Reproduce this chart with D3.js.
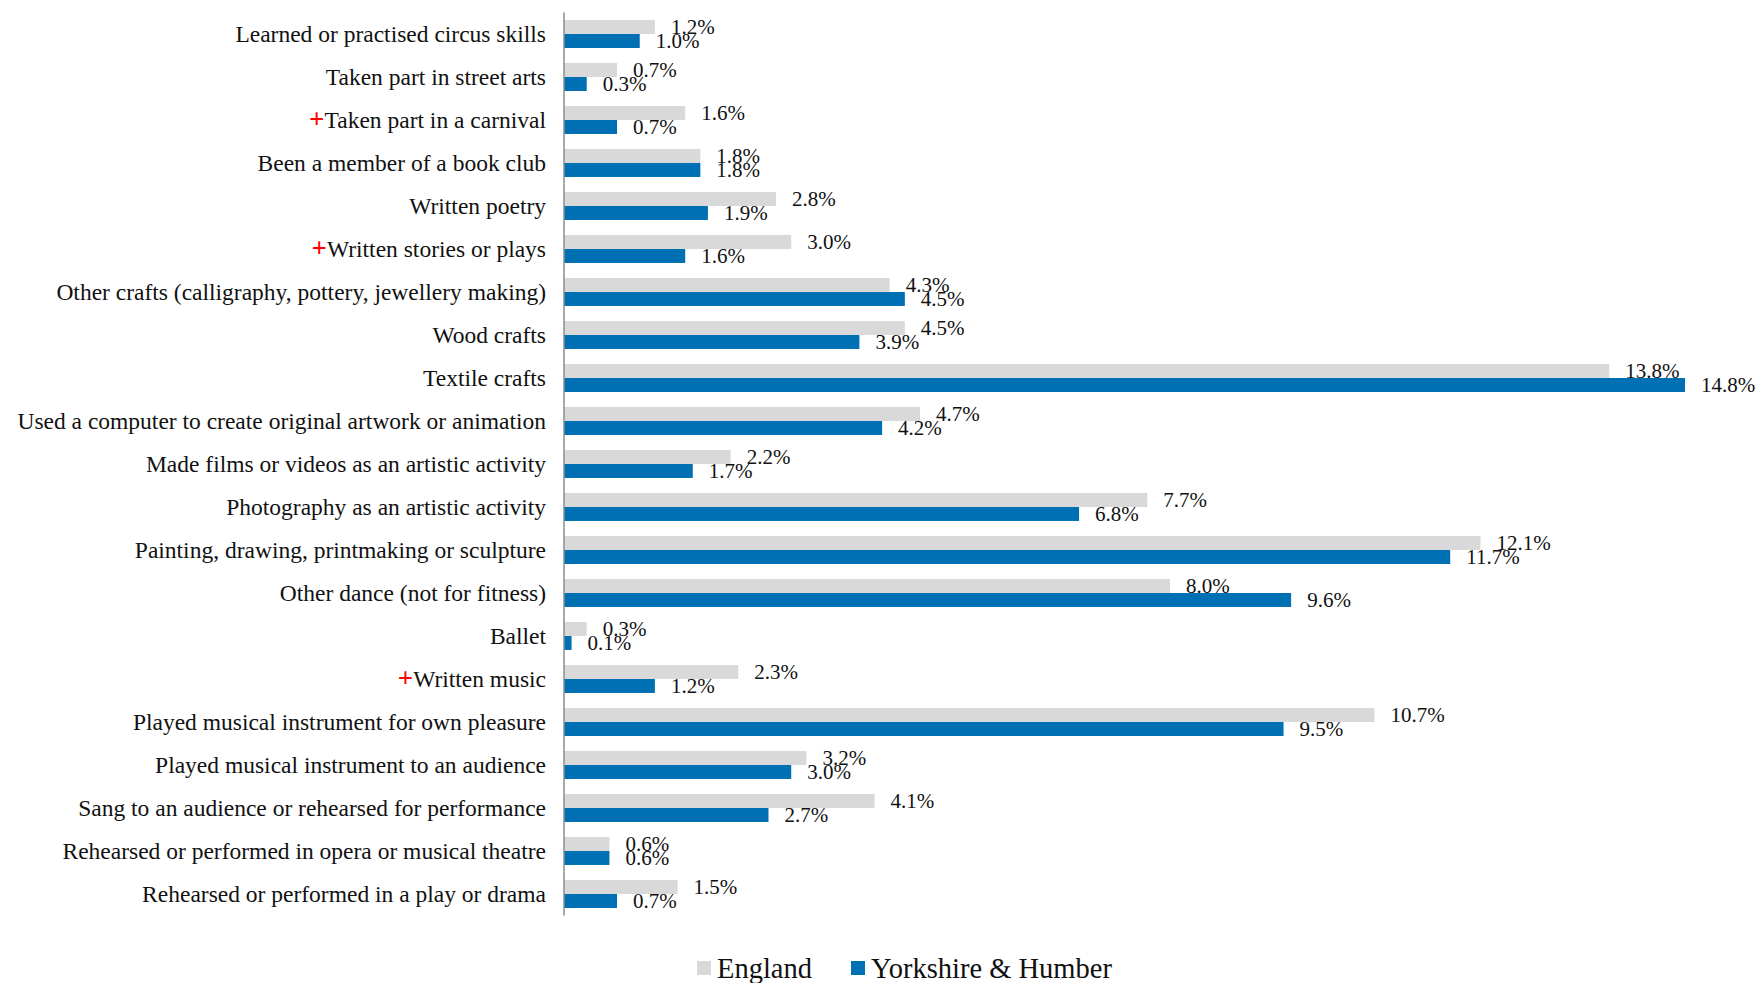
<!DOCTYPE html>
<html>
<head>
<meta charset="utf-8">
<script src="https://cdn.jsdelivr.net/npm/d3@7"></script>
<style>
  html, body { margin: 0; padding: 0; background: #fff; }
  svg { display: block; font-family: 'Liberation Serif', serif; }
</style>
</head>
<body>
<svg class="canvas" width="1762" height="983"></svg>
<script>
'use strict'

// Activities, top to bottom. Some carry a red "+".
const activities = [
  'Learned or practised circus skills',
  'Taken part in street arts',
  'Taken part in a carnival',
  'Been a member of a book club',
  'Written poetry',
  'Written stories or plays',
  'Other crafts (calligraphy, pottery, jewellery making)',
  'Wood crafts',
  'Textile crafts',
  'Used a computer to create original artwork or animation',
  'Made films or videos as an artistic activity',
  'Photography as an artistic activity',
  'Painting, drawing, printmaking or sculpture',
  'Other dance (not for fitness)',
  'Ballet',
  'Written music',
  'Played musical instrument for own pleasure',
  'Played musical instrument to an audience',
  'Sang to an audience or rehearsed for performance',
  'Rehearsed or performed in opera or musical theatre',
  'Rehearsed or performed in a play or drama'
]
const flagged = ['Taken part in a carnival', 'Written stories or plays', 'Written music']

const england = [1.2, 0.7, 1.6, 1.8, 2.8, 3.0, 4.3, 4.5, 13.8, 4.7, 2.2, 7.7, 12.1, 8.0, 0.3, 2.3, 10.7, 3.2, 4.1, 0.6, 1.5]
const yorkshire = [1.0, 0.3, 0.7, 1.8, 1.9, 1.6, 4.5, 3.9, 14.8, 4.2, 1.7, 6.8, 11.7, 9.6, 0.1, 1.2, 9.5, 3.0, 2.7, 0.6, 0.7]

const seriesNames = ['England', 'Yorkshire & Humber']
const seriesColors = ['#d9d9d9', '#0070b4']

const rows = activities.map((name, i) => ({ name, values: [england[i], yorkshire[i]] }))

const svg = d3.select('.canvas')
const axisX = 564

const x = d3.scaleLinear().domain([0, 14.8]).range([axisX, 1685])
const y = d3.scaleBand().domain(activities).range([12.5, 915.5]).paddingInner(0.35).paddingOuter(0.175)
const ySub = d3.scaleBand().domain([0, 1]).range([0, y.bandwidth()])

// Bars and value labels.
const groups = svg.selectAll('g.row').data(rows).enter().append('g')
  .attr('class', 'row')
  .attr('transform', d => `translate(0, ${y(d.name)})`)

groups.selectAll('rect')
  .data(d => d.values)
  .enter().append('rect')
  .attr('x', x(0))
  .attr('y', (v, i) => ySub(i))
  .attr('width', v => x(v) - x(0))
  .attr('height', ySub.bandwidth())
  .attr('fill', (v, i) => seriesColors[i])

groups.selectAll('text.value')
  .data(d => d.values)
  .enter().append('text')
  .attr('class', 'value')
  .attr('x', v => x(v) + 16)
  .attr('y', (v, i) => ySub(i) + ySub.bandwidth() / 2)
  .attr('dy', '0.35em')
  .attr('font-size', 21)
  .attr('fill', '#111')
  .text(v => v.toFixed(1) + '%')

// Category axis: just the line plus labels.
svg.append('line')
  .attr('x1', axisX).attr('x2', axisX)
  .attr('y1', 12.5).attr('y2', 915.5)
  .attr('stroke', '#8c8c8c')
  .attr('stroke-width', 1.5)

const labels = svg.selectAll('text.cat').data(activities).enter().append('text')
  .attr('class', 'cat')
  .attr('x', axisX - 18)
  .attr('y', d => y(d) + y.bandwidth() / 2)
  .attr('dy', '0.35em')
  .attr('text-anchor', 'end')
  .attr('font-size', 23.5)
  .attr('fill', '#111')

labels.filter(d => flagged.includes(d))
  .append('tspan')
  .attr('fill', '#ff0000')
  .attr('font-size', 27)
  .attr('font-weight', 'bold')
  .text('+')
labels.append('tspan').text(d => d)

// Legend.
const legend = svg.append('g').attr('transform', 'translate(697, 968)')
const legendOffsets = [0, 154]
seriesNames.forEach((name, i) => {
  const item = legend.append('g').attr('transform', `translate(${legendOffsets[i]}, 0)`)
  item.append('rect').attr('x', 0).attr('y', -7).attr('width', 14).attr('height', 14)
    .attr('fill', seriesColors[i])
  item.append('text').attr('x', 20).attr('dy', '0.35em')
    .attr('font-size', 28.5).attr('fill', '#111').text(name)
})
</script>
</body>
</html>
